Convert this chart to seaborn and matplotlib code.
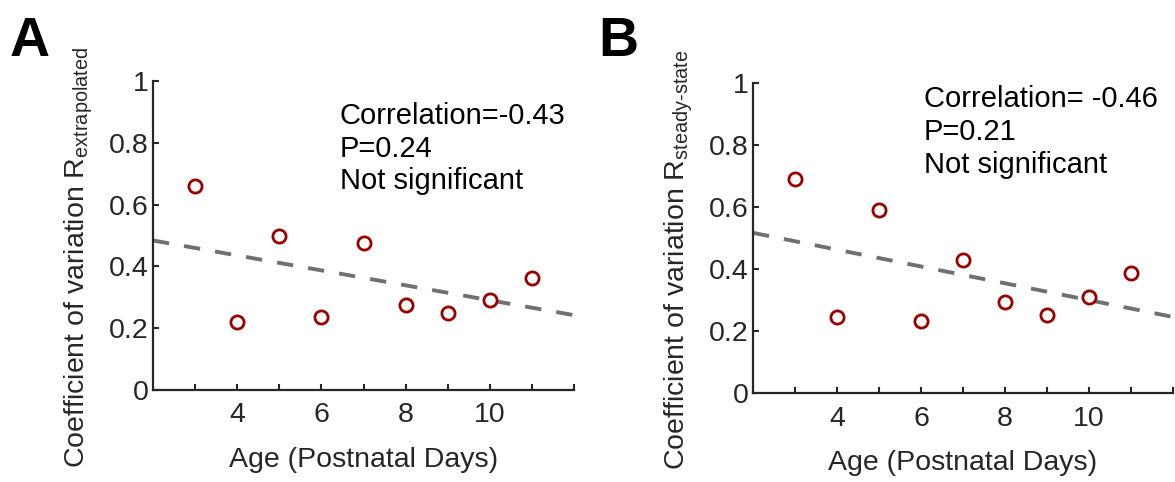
import numpy as np
import pandas as pd
import matplotlib
matplotlib.use("Agg")
import matplotlib.pyplot as plt
import seaborn as sns

# ---- data ----
ages = [3, 4, 5, 6, 7, 8, 9, 10, 11]
cv_extrapolated = [0.66, 0.22, 0.50, 0.237, 0.476, 0.274, 0.248, 0.291, 0.361]
cv_steady_state = [0.69, 0.244, 0.59, 0.232, 0.429, 0.295, 0.252, 0.311, 0.386]

x_ticks = [3, 4, 5, 6, 7, 8, 9, 10, 11, 12]
x_tick_labels = ["", "4", "", "6", "", "8", "", "10", "", ""]
y_ticks = [0, 0.2, 0.4, 0.6, 0.8, 1.0]
y_tick_labels = ["0", "0.2", "0.4", "0.6", "0.8", "1"]

panel_letters = ["A", "B"]
y_labels = [r"Coefficient of variation R$_{\mathrm{extrapolated}}$",
            r"Coefficient of variation R$_{\mathrm{steady\text{-}state}}$"]
x_label = "Age (Postnatal Days)"
stats_text = [["Correlation=-0.43", "P=0.24", "Not significant"],
              ["Correlation= -0.46", "P=0.21", "Not significant"]]

# ---- style ----
sns.set_theme(style="white")
plt.rcParams["font.family"] = ["Liberation Sans", "DejaVu Sans"]
plt.rcParams["mathtext.fontset"] = "custom"
plt.rcParams["mathtext.rm"] = "Liberation Sans"
plt.rcParams["mathtext.it"] = "Liberation Sans:italic"
plt.rcParams["mathtext.bf"] = "Liberation Sans:bold"

spine_col = "#262626"
marker_col = "#990000"
line_col = "#707070"

fig = plt.figure(figsize=(11.75, 4.82), dpi=100)
ax_a = fig.add_axes([153 / 1175, (482 - 390) / 482, 421 / 1175, 309 / 482])
ax_b = fig.add_axes([753 / 1175, (482 - 393) / 482, 420 / 1175, 310 / 482])

datasets = [cv_extrapolated, cv_steady_state]
text_pos = [(0.444, [0.861, 0.754, 0.650]), (0.407, [0.923, 0.816, 0.710])]
letter_pos = [(10 / 1175, 1 - 56 / 482), (598 / 1175, 1 - 56 / 482)]

for i, ax in enumerate([ax_a, ax_b]):
    ax.set_xlim(2, 12)
    ax.set_ylim(0, 1)
    sns.regplot(x=ages, y=datasets[i], scatter=False, ci=None, truncate=False,
                ax=ax, line_kws=dict(color=line_col, lw=2.8,
                                     ls=(0, (4.2, 3.9)), zorder=2))
    sns.scatterplot(x=ages, y=datasets[i], color="white", edgecolor=marker_col,
                    s=90, linewidth=2.0, zorder=3, ax=ax, legend=False)
    ax.set_xlim(2, 12)
    ax.set_ylim(0, 1)
    ax.set_xticks(x_ticks)
    ax.set_xticklabels(x_tick_labels)
    ax.set_yticks(y_ticks)
    ax.set_yticklabels(y_tick_labels)
    for side in ["top", "right"]:
        ax.spines[side].set_visible(False)
    for side in ["left", "bottom"]:
        ax.spines[side].set_color(spine_col)
        ax.spines[side].set_linewidth(1.6)
    ax.tick_params(axis="both", which="major", direction="in", length=4.0,
                   width=1.5, colors=spine_col, labelsize=20.5,
                   labelcolor=spine_col, bottom=True, left=True,
                   top=False, right=False)
    ax.tick_params(axis="x", pad=9)
    ax.tick_params(axis="y", pad=3)
    ax.set_xlabel(x_label, fontsize=20.5, color=spine_col, labelpad=13)
    ax.set_ylabel(y_labels[i], fontsize=20.5, color=spine_col)
    ax.yaxis.set_label_coords(-0.138, 0.43)
    tx, tys = text_pos[i]
    for line, ty in zip(stats_text[i], tys):
        ax.text(tx, ty, line, transform=ax.transAxes, fontsize=21,
                color="black", va="baseline", ha="left")
    fig.text(letter_pos[i][0], letter_pos[i][1], panel_letters[i],
             fontsize=40, fontweight="bold", color="black",
             va="baseline", ha="left")

fig.savefig("out.png", dpi=100, facecolor="white")
